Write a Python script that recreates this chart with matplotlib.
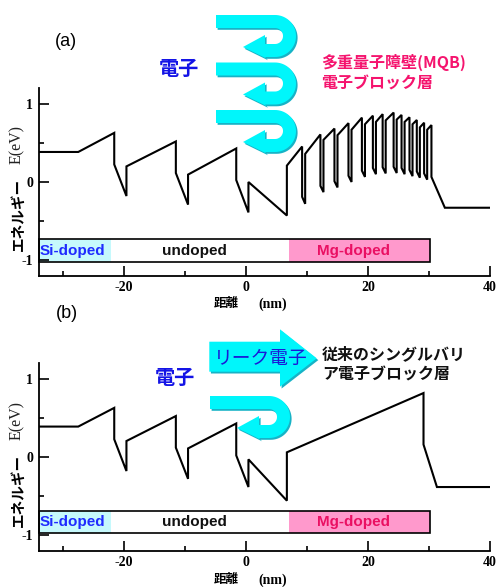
import matplotlib
matplotlib.use("Agg")
import numpy as np
import matplotlib.pyplot as plt
import matplotlib.transforms as mtransforms
from matplotlib.patches import Polygon, Rectangle
from matplotlib.ticker import FixedLocator

plt.rcParams["axes.unicode_minus"] = False

W, H = 500, 587

# ---------------- data ----------------
xticks = [-20, 0, 20, 40]
xtick_labels = ["-20", "0", "20", "40"]
xminor = [-30, -10, 10, 30]
yticks = [-1, 0, 1]
ytick_labels = ["-1", "0", "1"]
yminor = [-0.5, 0.5]

# conduction band through n-layer and the InGaN wells (shared x positions)
front_x = [-34, -27.5, -21.6, -21.6, -19.6, -19.6, -11.5, -11.5, -9.5, -9.5,
           -1.6, -1.6, 0.4, 0.4, 6.7, 6.7]
front_y_a = [0.385, 0.385, 0.63, 0.225, -0.18, 0.20, 0.52, 0.115, -0.29, 0.095,
             0.43, 0.025, -0.39, 0.0, -0.43, 0.21]
front_y_b = [0.39, 0.39, 0.63, 0.227, -0.18, 0.205, 0.525, 0.12, -0.28, 0.11,
             0.43, 0.02, -0.385, -0.03, -0.56, 0.06]

# (a) multi quantum barrier
mqb_peak_x = [9.2, 12.2, 14.5, 16.8, 19.0, 20.8, 22.4, 24.2, 25.5, 26.8, 28.0, 29.2, 30.4]
mqb_peak_y = [0.455, 0.61, 0.685, 0.755, 0.825, 0.85, 0.87, 0.89, 0.86, 0.83, 0.795, 0.76, 0.73]
mqb_drop_y = [-0.19, -0.05, 0.01, 0.08, 0.145, 0.18, 0.19, 0.195, 0.18, 0.155, 0.135, 0.11, 0.065]
mqb_well_y = [-0.28, -0.13, -0.07, 0.0, 0.065, 0.10, 0.11, 0.115, 0.10, 0.075, 0.055, 0.03]
mqb_rise_y = [0.36, 0.54, 0.60, 0.67, 0.74, 0.77, 0.79, 0.80, 0.77, 0.74, 0.70, 0.67]
mqb_well_w = 0.5
tail_x_a = [32.6, 40]
tail_y_a = [-0.33, -0.33]

# (b) single barrier electron blocking layer
sb_x = [29.1, 29.1, 31.3, 40]
sb_y = [0.82, 0.16, -0.385, -0.385]

# doping regions
si_end = -22.2
mg_start, mg_end = 7.0, 30.2
bar_a = (-1.03, -0.735)
bar_b = (-0.98, -0.695)

# ---------------- helpers ----------------
def mqb_profile(px, py, dy, wy, ry, w):
    xs, ys = [], []
    for i in range(len(px)):
        xs += [px[i], px[i]]
        ys += [py[i], dy[i]]
        if i < len(wy):
            xs += [px[i] + w, px[i] + w]
            ys += [wy[i], ry[i]]
    return xs, ys


fig = plt.figure(figsize=(W / 100, H / 100), dpi=100)
pix = mtransforms.Affine2D().scale(1 / W, -1 / H).translate(0, 1) + fig.transFigure

SERIF = "Liberation Serif"
SANS = "Liberation Sans"
CJK = ["Noto Sans CJK JP", "DejaVu Sans"]


def style_axes(ax):
    ax.set_xlim(-34, 40)
    ax.set_ylim(-1.2, 1.2)
    for s in ("top", "right"):
        ax.spines[s].set_visible(False)
    for s in ("left", "bottom"):
        ax.spines[s].set_linewidth(1.3)
    ax.xaxis.set_major_locator(FixedLocator(xticks))
    ax.xaxis.set_minor_locator(FixedLocator(xminor))
    ax.yaxis.set_major_locator(FixedLocator(yticks))
    ax.yaxis.set_minor_locator(FixedLocator(yminor))
    ax.set_xticklabels(xtick_labels)
    ax.set_yticklabels(ytick_labels)
    ax.tick_params(which="major", direction="in", length=7.5, width=1.2, pad=4)
    ax.tick_params(which="minor", direction="in", length=3.8, width=1.2)
    for lab in ax.get_xticklabels() + ax.get_yticklabels():
        lab.set_fontfamily(SERIF)
        lab.set_fontweight("bold")
        lab.set_fontsize(10)


def doping_bar(ax, lo, hi):
    h = hi - lo
    ax.add_patch(Rectangle((-34, lo), si_end + 34, h, fc="#c6f9fc", ec="none", zorder=1))
    ax.add_patch(Rectangle((mg_start, lo), mg_end - mg_start, h, fc="#ff99cc", ec="none", zorder=1))
    ax.add_patch(Rectangle((-34, lo), mg_end + 34, h, fc="none", ec="black", lw=1.2,
                           zorder=2, clip_on=False))
    yc = (lo + hi) / 2
    ax.text(-28.4, yc, "Si-doped", color="#1f2bff", fontfamily=SANS, fontweight="bold",
            fontsize=11, ha="center", va="center", zorder=3)
    ax.text(-8.4, yc, "undoped", color="#111111", fontfamily=SANS, fontweight="bold",
            fontsize=11, ha="center", va="center", zorder=3)
    ax.text(17.7, yc, "Mg-doped", color="#ea1063", fontfamily=SANS, fontweight="bold",
            fontsize=11, ha="center", va="center", zorder=3)


def axis_labels(dy):
    fig.text(17, 145 + dy, "E(eV)", transform=pix, rotation=90, ha="center", va="center",
             fontfamily=SERIF, fontsize=11.5, color="#222222")
    fig.text(18, 214 + dy, "エネルギー", transform=pix, rotation=90, ha="center", va="center",
             family=CJK, fontweight="bold", fontsize=10.5)
    fig.text(226, 304 + dy, "距離", transform=pix, ha="center", va="center",
             family=CJK, fontweight="bold", fontsize=9)
    fig.text(272.5, 304 + dy, "(nm)", transform=pix, ha="center", va="center",
             fontfamily=SERIF, fontweight="bold", fontsize=10)


def u_arrow_points(x0, y0):
    t = 13
    xc = x0 + 59
    yc = y0 + 21
    R, r = 21, 8
    xh = x0 + 49
    pts = [(x0, y0), (xc, y0)]
    for a in np.linspace(-90, 90, 40):
        pts.append((xc + R * np.cos(np.radians(a)), yc + R * np.sin(np.radians(a))))
    pts += [(xh, yc + R), (xh + 1.5, y0 + 43.5), (x0 + 27, y0 + 32), (xh, y0 + 20),
            (xh, yc + r), (xc, yc + r)]
    for a in np.linspace(90, -90, 40):
        pts.append((xc + r * np.cos(np.radians(a)), yc + r * np.sin(np.radians(a))))
    pts += [(x0, y0 + t)]
    return pts


def draw_shape(pts):
    sh = [(x + 1.6, y + 1.8) for x, y in pts]
    fig.add_artist(Polygon(sh, closed=True, transform=pix, fc="#17b3c6", ec="none", zorder=5))
    fig.add_artist(Polygon(pts, closed=True, transform=pix, fc="#00f6fb", ec="none", zorder=6))


# ---------------- panel (a) ----------------
ax1 = fig.add_axes([38.6 / W, 1 - 275.6 / H, 451.4 / W, 187.2 / H])
style_axes(ax1)
doping_bar(ax1, *bar_a)
mx, my = mqb_profile(mqb_peak_x, mqb_peak_y, mqb_drop_y, mqb_well_y, mqb_rise_y, mqb_well_w)
xa = front_x + mx + tail_x_a
ya = front_y_a + my + tail_y_a
ax1.plot(xa, ya, color="black", lw=1.5, solid_joinstyle="miter", zorder=4)
axis_labels(0)

fig.text(66, 41, "(a)", transform=pix, ha="center", va="center", fontfamily=SANS, fontsize=13)
fig.text(179, 68, "電子", transform=pix, ha="center", va="center", family=CJK,
         fontweight="bold", fontsize=14.5, color="#1414e6")
fig.text(321, 62.5, "多重量子障壁(MQB)", transform=pix, ha="left", va="center", family=CJK,
         fontweight="bold", fontsize=11.5, color="#f5146e")
fig.text(321, 84, "電子ブロック層", transform=pix, ha="left", va="center", family=CJK,
         fontweight="bold", fontsize=11.5, color="#f5146e")

for y0 in (15, 62.5, 110):
    draw_shape(u_arrow_points(216, y0))

# ---------------- panel (b) ----------------
ax2 = fig.add_axes([38.6 / W, 1 - 550.6 / H, 451.4 / W, 187.2 / H])
style_axes(ax2)
doping_bar(ax2, *bar_b)
xb = front_x + sb_x
yb = front_y_b + sb_y
ax2.plot(xb, yb, color="black", lw=1.5, solid_joinstyle="miter", zorder=4)
axis_labels(276)

fig.text(67, 313, "(b)", transform=pix, ha="center", va="center", fontfamily=SANS, fontsize=13)
fig.text(174.5, 377.5, "電子", transform=pix, ha="center", va="center", family=CJK,
         fontweight="bold", fontsize=14.5, color="#1414e6")
fig.text(322, 354, "従来のシングルバリ", transform=pix, ha="left", va="center", family=CJK,
         fontweight="bold", fontsize=11.5, color="#111111")
fig.text(322, 375, "ア電子ブロック層", transform=pix, ha="left", va="center", family=CJK,
         fontweight="bold", fontsize=11.5, color="#111111")

draw_shape(u_arrow_points(210, 396))

leak = [(209.3, 341.7), (280, 341.7), (280, 329.3), (316.7, 358.3), (280, 386.7),
        (280, 371.7), (209.3, 371.7)]
draw_shape(leak)
fig.text(260.5, 358, "リーク電子", transform=pix, ha="center", va="center", family=CJK,
         fontsize=13.5, color="#1a1ad8", zorder=7)

fig.savefig("out.png", dpi=100)
